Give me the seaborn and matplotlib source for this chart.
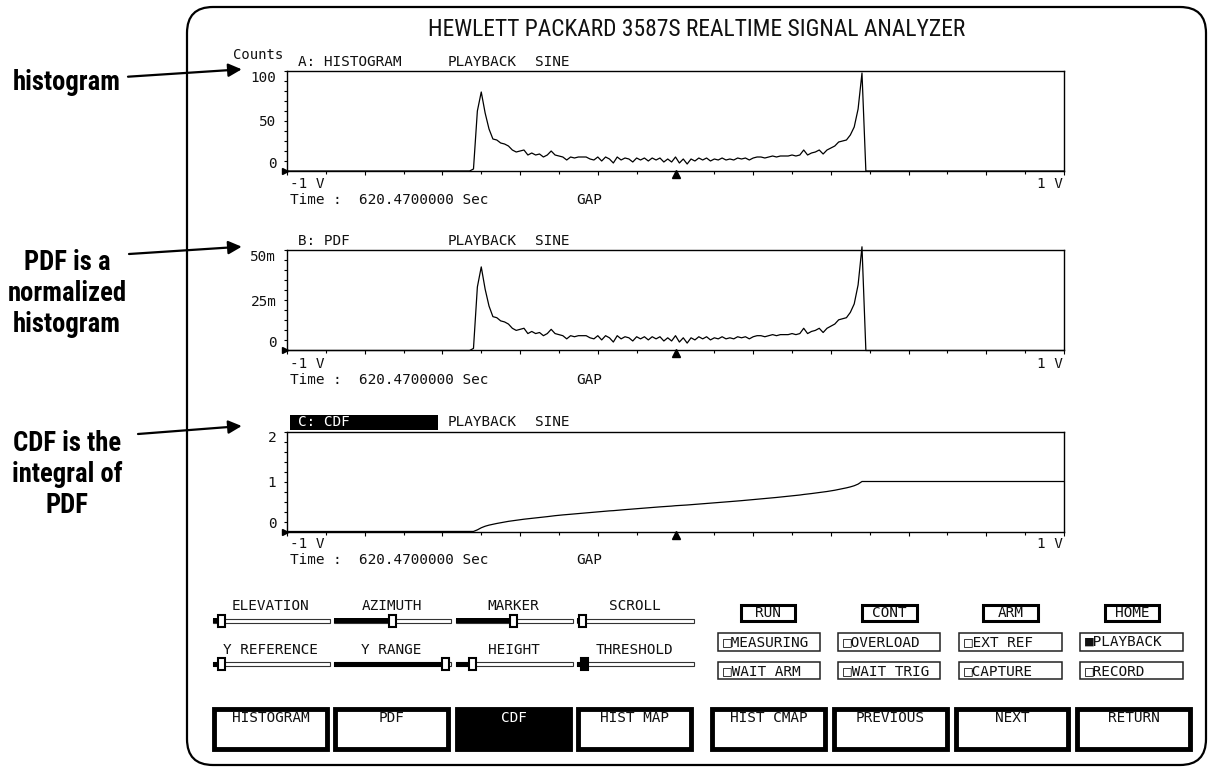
import numpy as np
import pandas as pd
import seaborn as sns
import matplotlib.pyplot as plt
from matplotlib import font_manager as fm
from matplotlib.patches import Rectangle, FancyBboxPatch
from matplotlib.ticker import MultipleLocator
from matplotlib.transforms import offset_copy

# ---- values ----
bin_step = 0.01       # volts per bin
first_bin = -0.52     # first occupied bin, volts
hist_counts = [2, 60, 79, 58, 42, 32, 31, 28, 27, 25,
               21, 19, 20, 21, 16, 18, 16, 17, 14, 16,
               20, 16, 15, 14, 11, 14, 13, 14, 14, 14,
               12, 11, 14, 10, 14, 12, 8, 14, 11, 13,
               12, 9, 13, 11, 13, 10, 13, 11, 13, 9,
               12, 9, 14, 8, 12, 7, 12, 10, 13, 11,
               13, 10, 12, 11, 13, 11, 12, 11, 13, 12,
               13, 11, 13, 14, 14, 13, 14, 15, 14, 15,
               15, 15, 16, 15, 16, 21, 16, 18, 19, 21,
               17, 21, 23, 25, 29, 30, 31, 36, 44, 62,
               98, 0]
x_span = (-1, 1)
marker_volts = 0.0

panel_titles = ['A: HISTOGRAM', 'B: PDF', 'C: CDF']
y_ranges = [(0, 100), (0, 0.05), (0, 2)]
y_tick_text = [['0', '50', '100'], ['0', '25m', '50m'], ['0', '1', '2']]
mode_text = 'PLAYBACK'
signal_text = 'SINE'
time_text = 'Time :  620.4700000 Sec'
title = 'HEWLETT PACKARD 3587S REALTIME SIGNAL ANALYZER'

notes = [['histogram'], ['PDF is a', 'normalized', 'histogram'],
         ['CDF is the', 'integral of', 'PDF']]

slider_names = [['ELEVATION', 'AZIMUTH', 'MARKER', 'SCROLL'],
                ['Y REFERENCE', 'Y RANGE', 'HEIGHT', 'THRESHOLD']]
slider_pos = [[0.07, 0.50, 0.49, 0.05], [0.07, 0.95, 0.14, 0.06]]
status_keys = ['RUN', 'CONT', 'ARM', 'HOME']
status_flags = [['MEASURING', 'OVERLOAD', 'EXT REF', 'PLAYBACK'],
                ['WAIT ARM', 'WAIT TRIG', 'CAPTURE', 'RECORD']]
flag_on = [[False, False, False, True], [False, False, False, False]]
soft_keys = ['HISTOGRAM', 'PDF', 'CDF', 'HIST MAP', 'HIST CMAP', 'PREVIOUS', 'NEXT', 'RETURN']
active_key = 'CDF'

# histogram -> pdf (normalized) -> cdf (running integral)
volts = np.round(np.arange(-100, 101) * bin_step, 2)
counts = np.zeros(len(volts))
i0 = int(round((first_bin - x_span[0]) / bin_step))
counts[i0:i0 + len(hist_counts)] = hist_counts
pdf = counts / counts.sum()
cdf = np.cumsum(pdf)
df = pd.DataFrame({'volts': volts, 'A': counts, 'B': pdf, 'C': cdf})


def find_narrow(bold):
    """look for a condensed / narrow face, None if there is none"""
    prefs = ['Liberation Sans Narrow', 'Roboto Condensed', 'DejaVu Sans', 'Open Sans', 'Noto Sans']
    best = None
    for f in fm.fontManager.ttflist:
        narrow = 'Narrow' in f.name or 'Condensed' in f.name or 'condensed' in str(f.stretch)
        if not narrow or f.style != 'normal':
            continue
        w = f.weight if isinstance(f.weight, int) else {'bold': 700, 'normal': 400, 'regular': 400}.get(str(f.weight), 400)
        if bold != (w >= 600):
            continue
        rank = next((i for i, p in enumerate(prefs) if f.name.startswith(p)), 99)
        if best is None or rank < best[0]:
            best = (rank, f.fname)
    return best[1] if best else None


sns.set_style('white')
plt.rcParams['font.family'] = ['DejaVu Sans Mono', 'DejaVu Sans']
MONO = 10.4
INK = '#111111'

W, H = 1208, 770
fig = plt.figure(figsize=(W / 100, H / 100), dpi=100)
bg = fig.add_axes([0, 0, 1, 1], zorder=0)
bg.set_xlim(0, W)
bg.set_ylim(H, 0)
bg.axis('off')

f_reg = find_narrow(False)
f_bold = find_narrow(True)
title_fp = fm.FontProperties(fname=f_reg) if f_reg else fm.FontProperties(family='DejaVu Sans')
note_fp = fm.FontProperties(fname=f_bold) if f_bold else fm.FontProperties(family='DejaVu Sans', weight='bold')

# screen outline
bg.add_patch(FancyBboxPatch((187, 7), 1019, 758, boxstyle='round,pad=0,rounding_size=26',
                            fc='none', ec='black', lw=1.6))
t_title = bg.text(696.5, 29, title, ha='center', va='center', fontproperties=title_fp,
                  fontsize=17, color=INK)

# ---- the three traces ----
box_left, box_right, box_h = 287, 1064, 100
box_tops = [71, 250.5, 431.5]
for k, top in enumerate(box_tops):
    ax = fig.add_axes([box_left / W, 1 - (top + box_h) / H, (box_right - box_left) / W, box_h / H], zorder=2)
    ax.set_facecolor('none')
    sns.lineplot(data=df, x='volts', y='ABC'[k], ax=ax, color='black', lw=0.9, clip_on=False)
    lo, hi = y_ranges[k]
    ax.set_xlim(*x_span)
    ax.set_ylim(lo, hi)
    ax.set_xlabel('')
    ax.set_ylabel('')
    for s in ax.spines.values():
        s.set_color('black')
        s.set_linewidth(1.0)
    ax.xaxis.set_major_locator(MultipleLocator(0.2))
    ax.xaxis.set_minor_locator(MultipleLocator(0.1))
    ax.tick_params(axis='x', which='major', bottom=True, length=3.2, width=0.8, color='black', labelbottom=False)
    ax.tick_params(axis='x', which='minor', bottom=True, length=2, width=0.8, color='black')
    ax.set_yticks([lo, (lo + hi) / 2, hi])
    ax.set_yticklabels(y_tick_text[k], fontsize=MONO, color=INK)
    ax.yaxis.set_minor_locator(MultipleLocator((hi - lo) / 10))
    ax.tick_params(axis='y', which='both', left=True, length=2.2, width=0.8, color='black', pad=5.5)
    labs = ax.get_yticklabels()
    labs[0].set_va('bottom')
    labs[2].set_va('top')
    # reference level arrow and marker position
    ax.plot([x_span[0]], [lo], marker='>', ms=4.5, color='black', clip_on=False,
            transform=offset_copy(ax.transData, fig=fig, x=-2, y=0, units='dots'))
    ax.plot([marker_volts], [lo], marker='^', ms=6, color='black', clip_on=False,
            transform=offset_copy(ax.transData, fig=fig, x=0, y=-3, units='dots'))

    hy = top - 9.5
    if k == 2:
        bg.add_patch(Rectangle((290, top - 16.5), 148.3, 15, fc='black', ec='none'))
        bg.text(298, hy, panel_titles[k], va='center', fontsize=MONO, color='white')
    else:
        bg.text(298, hy, panel_titles[k], va='center', fontsize=MONO, color=INK)
    bg.text(447.7, hy, mode_text, va='center', fontsize=MONO, color=INK)
    bg.text(535, hy, signal_text, va='center', fontsize=MONO, color=INK)
    bg.text(290, top + 113, '-1 V', va='center', fontsize=MONO, color=INK)
    bg.text(1063, top + 113, '1 V', va='center', ha='right', fontsize=MONO, color=INK)
    bg.text(290, top + 129, time_text, va='center', fontsize=MONO, color=INK)
    bg.text(576.7, top + 129, 'GAP', va='center', fontsize=MONO, color=INK)

bg.text(233, 55, 'Counts', va='center', fontsize=MONO - 0.4, color=INK)

# ---- left hand notes with arrows ----
note_base = [[90], [270, 301, 332], [451, 482, 513]]
arrow_from = [(128, 76.7), (129, 254), (138, 434)]
arrow_to = [(241.7, 69.3), (241.7, 246.7), (241.7, 426)]
note_txt = []
for lines, ys in zip(notes, note_base):
    for s, y in zip(lines, ys):
        note_txt.append(bg.text(67, y, s, ha='center', va='baseline', fontproperties=note_fp,
                                fontsize=20, color='black'))
for a, b in zip(arrow_from, arrow_to):
    bg.annotate('', xy=b, xytext=a,
                arrowprops=dict(arrowstyle='-|>', lw=1.6, color='black', shrinkA=0, shrinkB=0,
                                mutation_scale=20))

# ---- sliders ----
track_x = [213, 334, 456, 577]
track_w = 117
track_y = [620.7, 664.3]
label_y = [606, 649.5]
for r in range(2):
    for c in range(4):
        x0, y = track_x[c], track_y[r]
        bg.text(x0 + track_w / 2 - 1, label_y[r], slider_names[r][c], ha='center', va='center',
                fontsize=MONO, color=INK)
        bg.add_patch(Rectangle((x0, y - 2), track_w, 4, fc='white', ec='#333333', lw=0.8))
        kx = x0 + slider_pos[r][c] * track_w
        bg.add_patch(Rectangle((x0, y - 2.6), kx - x0, 5.2, fc='black', ec='none'))
        dark = slider_names[r][c] == 'THRESHOLD'
        bg.add_patch(Rectangle((kx - 3.5, y - 6), 7, 12, fc='black' if dark else 'white',
                               ec='black', lw=1.5, hatch='....' if dark else None))

# ---- status keys and flags ----
key_x = [739.3, 860.7, 981.7, 1103.3]
key_w = 57.5
for c in range(4):
    bg.add_patch(Rectangle((key_x[c] + 1.5, 603.3 + 1.5), key_w - 3, 19.4 - 3, fc='white', ec='black', lw=2.2))
    bg.text(key_x[c] + key_w / 2, 612.8, status_keys[c], ha='center', va='center', fontsize=MONO, color=INK)

flag_x = [717.7, 837.7, 959, 1080]
flag_w = 102.5
flag_rows = [(633.3, 651), (662.3, 679.3)]
for r in range(2):
    y0, y1 = flag_rows[r]
    for c in range(4):
        bg.add_patch(Rectangle((flag_x[c], y0), flag_w, y1 - y0, fc='white', ec='#222222', lw=1.1))
        box = '\u25a0' if flag_on[r][c] else '\u25a1'
        bg.text(flag_x[c] + 5, (y0 + y1) / 2, box + status_flags[r][c], va='center',
                fontsize=MONO, color=INK)

# ---- soft keys ----
soft_x = [211.7, 332.7, 455, 576, 710, 831.7, 953.3, 1075]
soft_w = 117.5
for x0, name in zip(soft_x, soft_keys):
    on = name == active_key
    bg.add_patch(Rectangle((x0 + 2.4, 706.7 + 2.4), soft_w - 4.8, 45 - 4.8,
                           fc='black' if on else 'white', ec='black', lw=3.5))
    bg.text(x0 + soft_w / 2, 718, name, ha='center', va='center', fontsize=MONO,
            color='white' if on else INK)

# size the proportional fonts to the widths seen on the screen
rend = fig.canvas.get_renderer()
tw = t_title.get_window_extent(rend).width
t_title.set_fontsize(min(17.5, 17 * 537 / tw))
nw = note_txt[2].get_window_extent(rend).width
for t in note_txt:
    t.set_fontsize(min(22, 20 * 119 / nw))

fig.savefig('out.png', dpi=100)
